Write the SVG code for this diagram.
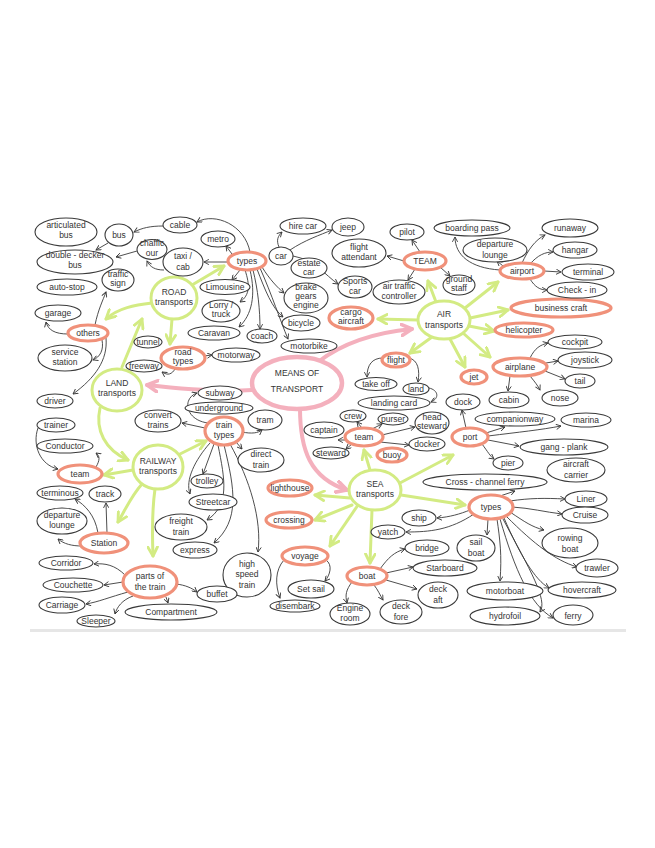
<svg xmlns="http://www.w3.org/2000/svg" width="655" height="848" viewBox="0 0 655 848">
<defs>
<style>
.b ellipse{fill:#fff;stroke:#3a3a3a;stroke-width:1.1}
.o ellipse{fill:#fff;stroke:#f0917a;stroke-width:3.2}
.y ellipse{fill:#fff;stroke:#d3eb83;stroke-width:3}
.p ellipse{fill:#fff;stroke:#f4b0bd;stroke-width:4.5}
text{font-family:"Liberation Sans",Arial,sans-serif;fill:#333;text-anchor:middle;font-size:8.5px}
.k path{fill:none;stroke:#3a3a3a;stroke-width:0.9;marker-end:url(#ak)}
.g path{fill:none;stroke:#d3eb83;stroke-width:3;stroke-linecap:round;marker-end:url(#ag)}
.r path{fill:none;stroke:#f4b0bd;stroke-width:4;stroke-linecap:round;marker-end:url(#ar)}
</style>
<marker id="ak" viewBox="0 0 8 8" refX="7" refY="4" markerUnits="userSpaceOnUse" markerWidth="6" markerHeight="6" orient="auto"><path d="M0.5 0.5 L7 4 L0.5 7.5" fill="none" stroke="#3a3a3a" stroke-width="1.2"/></marker>
<marker id="ag" viewBox="0 0 10 10" refX="8.5" refY="5" markerUnits="userSpaceOnUse" markerWidth="12" markerHeight="12" orient="auto"><path d="M1 1 L8.5 5 L1 9" fill="none" stroke="#d3eb83" stroke-width="2.4" stroke-linecap="round" stroke-linejoin="round"/></marker>
<marker id="ar" viewBox="0 0 10 10" refX="8.5" refY="5" markerUnits="userSpaceOnUse" markerWidth="14" markerHeight="14" orient="auto"><path d="M1 1 L8.5 5 L1 9" fill="none" stroke="#f4b0bd" stroke-width="2.6" stroke-linecap="round" stroke-linejoin="round"/></marker>
</defs>
<rect width="655" height="848" fill="#fff"/>
<rect x="30" y="629" width="596" height="3" fill="#e6e6e6"/>
<g id="connectors">
<g class="r">
<path d="M252 390 C220 392 190 390 147 385"/>
<path d="M318 362 C340 345 370 333 412 329"/>
<path d="M300 408 C300 450 310 478 347 490"/>
</g>
<g class="g">
<path d="M122 367 L142 319"/>
<path d="M152 303 C135 305 118 308 106 319"/>
<path d="M192 285 L224 266"/>
<path d="M172 319 L170 344"/>
<path d="M100 408 C95 430 105 450 128 460"/>
<path d="M133 470 L104 475"/>
<path d="M142 484 C132 495 125 510 118 522"/>
<path d="M155 489 C152 510 152 530 153 556"/>
<path d="M178 455 L206 441"/>
<path d="M418 320 L378 319"/>
<path d="M436 302 L428 281"/>
<path d="M465 308 L498 282"/>
<path d="M470 318 L508 310"/>
<path d="M469 326 L494 331"/>
<path d="M463 333 L490 357"/>
<path d="M450 339 L465 367"/>
<path d="M432 337 L410 353"/>
<path d="M370 470 L364 450"/>
<path d="M398 484 L453 455"/>
<path d="M401 495 L465 505"/>
<path d="M372 510 L370 563"/>
<path d="M358 505 L330 546"/>
<path d="M350 498 L315 495"/>
<path d="M352 505 L315 520"/>
</g>
<g class="k">
<path d="M250 252 C245 225 215 212 197 222"/>
<path d="M163 226 C150 226 142 228 134 232"/>
<path d="M232 254 L226 246"/>
<path d="M228 262 L204 262"/>
<path d="M164 270 C155 270 150 267 147 261"/>
<path d="M137 251 L116 257"/>
<path d="M108 243 L96 250"/>
<path d="M95 325 C98 310 103 300 106 292"/>
<path d="M68 334 C55 334 48 330 46 322"/>
<path d="M102 340 C104 350 100 357 93 360"/>
<path d="M106 338 C108 360 95 378 73 394"/>
<path d="M175 369 C172 374 168 376 162 372"/>
<path d="M204 356 L212 355"/>
<path d="M240 270 L232 280"/>
<path d="M245 270 C250 285 250 295 240 302"/>
<path d="M250 270 C256 295 252 315 239 327"/>
<path d="M253 270 C258 290 260 310 260 329"/>
<path d="M257 269 C265 290 272 308 283 317"/>
<path d="M260 268 C272 295 280 320 288 339"/>
<path d="M262 267 C270 280 278 288 284 293"/>
<path d="M279 247 C276 240 278 236 282 232"/>
<path d="M290 250 C305 240 320 235 332 230"/>
<path d="M293 256 C315 260 325 275 338 284"/>
<path d="M420 252 L412 240"/>
<path d="M404 261 L387 256"/>
<path d="M415 269 L408 280"/>
<path d="M440 267 L450 276"/>
<path d="M522 263 C528 250 535 240 545 235"/>
<path d="M530 264 C538 255 545 252 553 252"/>
<path d="M544 271 L561 272"/>
<path d="M530 279 C535 287 540 290 547 290"/>
<path d="M503 266 L497 261"/>
<path d="M500 270 C470 268 455 255 455 237"/>
<path d="M530 358 C535 348 540 345 548 343"/>
<path d="M546 363 L558 361"/>
<path d="M545 371 L565 379"/>
<path d="M530 376 C535 382 538 386 540 390"/>
<path d="M510 376 L508 391"/>
<path d="M383 358 C372 358 367 365 367 377"/>
<path d="M409 358 C418 360 420 370 418 382"/>
<path d="M429 388 C438 390 440 398 431 402"/>
<path d="M362 428 L357 422"/>
<path d="M372 429 L382 424"/>
<path d="M382 435 L415 427"/>
<path d="M380 442 L409 445"/>
<path d="M346 440 L338 440"/>
<path d="M352 444 L346 449"/>
<path d="M466 428 L462 410"/>
<path d="M486 433 L505 427"/>
<path d="M488 436 C520 432 540 430 561 426"/>
<path d="M488 440 L519 446"/>
<path d="M482 444 C488 452 490 456 494 459"/>
<path d="M500 496 L515 491"/>
<path d="M510 501 C530 498 545 498 565 499"/>
<path d="M512 507 C530 508 545 512 562 514"/>
<path d="M510 512 C525 522 532 527 544 530"/>
<path d="M506 516 C535 545 555 560 577 567"/>
<path d="M504 518 C520 555 535 580 549 588"/>
<path d="M500 519 C515 570 530 605 553 618"/>
<path d="M497 519 C500 540 502 555 500 581"/>
<path d="M503 519 C530 570 548 600 540 612"/>
<path d="M488 519 L487 535"/>
<path d="M470 510 C460 514 450 517 437 518"/>
<path d="M474 514 C450 530 430 532 406 532"/>
<path d="M380 569 C388 558 394 552 405 549"/>
<path d="M386 573 L413 567"/>
<path d="M386 580 L417 589"/>
<path d="M352 582 C346 590 345 595 347 603"/>
<path d="M374 585 C378 590 380 595 383 600"/>
<path d="M326 560 C333 565 330 575 325 581"/>
<path d="M284 560 C275 570 275 585 280 598"/>
<path d="M208 423 C185 420 182 398 197 393"/>
<path d="M205 428 L182 423"/>
<path d="M242 432 C252 434 258 433 262 430"/>
<path d="M236 442 L242 449"/>
<path d="M214 444 L203 474"/>
<path d="M210 443 C195 460 185 480 190 494"/>
<path d="M218 445 C225 480 230 505 207 520"/>
<path d="M224 445 C235 490 240 520 214 543"/>
<path d="M230 444 C250 480 262 520 258 552"/>
<path d="M96 467 C100 460 100 456 96 453"/>
<path d="M38 428 C32 445 40 465 58 469"/>
<path d="M82 546 C72 546 64 544 58 539"/>
<path d="M107 533 L106 503"/>
<path d="M98 533 C95 515 85 505 75 499"/>
<path d="M125 575 C115 565 105 563 94 564"/>
<path d="M123 582 L104 585"/>
<path d="M128 592 C110 597 98 602 86 604"/>
<path d="M133 596 C122 600 117 607 115 614"/>
<path d="M166 597 L168 603"/>
<path d="M176 584 C185 585 192 588 197 592"/>
</g>
</g>
<g id="n-means" class="p"><ellipse cx="297" cy="383" rx="45" ry="26"/><text x="297" y="376" font-size="7">MEANS OF</text><text x="297" y="392" font-size="11.5">TRANSPORT</text></g>
<g id="n-road" class="y"><ellipse cx="174" cy="298" rx="23" ry="21"/><text x="174" y="295" font-size="7">ROAD<tspan x="174" dy="9.5">transports</tspan></text></g>
<g id="n-air" class="y"><ellipse cx="444" cy="320" rx="26" ry="19"/><text x="444" y="317" font-size="8">AIR<tspan x="444" dy="10.5">transports</tspan></text></g>
<g id="n-land" class="y"><ellipse cx="117" cy="390" rx="25" ry="21"/><text x="117" y="386" font-size="7">LAND<tspan x="117" dy="10">transports</tspan></text></g>
<g id="n-rail" class="y"><ellipse cx="158" cy="467" rx="25" ry="22"/><text x="158" y="464" font-size="7">RAILWAY<tspan x="158" dy="9.5">transports</tspan></text></g>
<g id="n-sea" class="y"><ellipse cx="375" cy="490" rx="26" ry="20"/><text x="375" y="487" font-size="7">SEA<tspan x="375" dy="9.5">transports</tspan></text></g>
<g id="n-types-road" class="o"><ellipse cx="247" cy="261" rx="19" ry="9"/><text x="247" y="264" font-size="9">types</text></g>
<g id="n-others" class="o"><ellipse cx="88" cy="333" rx="20" ry="8"/><text x="88" y="336" font-size="8">others</text></g>
<g id="n-roadtypes" class="o"><ellipse cx="183" cy="358" rx="22" ry="11"/><text x="183" y="355" font-size="7">road<tspan x="183" dy="9">types</tspan></text></g>
<g id="n-cargo" class="o"><ellipse cx="351" cy="318" rx="22" ry="11"/><text x="351" y="315" font-size="7">cargo<tspan x="351" dy="9">aircraft</tspan></text></g>
<g id="n-team-air" class="o"><ellipse cx="425" cy="261" rx="21" ry="9"/><text x="425" y="264" font-size="8">TEAM</text></g>
<g id="n-airport" class="o"><ellipse cx="522" cy="271" rx="22" ry="8"/><text x="522" y="273.5" font-size="7.5">airport</text></g>
<g id="n-business" class="o"><ellipse cx="561" cy="308" rx="50" ry="9"/><text x="561" y="311" font-size="9.5">business craft</text></g>
<g id="n-helicopter" class="o"><ellipse cx="524" cy="330" rx="29" ry="7"/><text x="524" y="333" font-size="8">helicopter</text></g>
<g id="n-airplane" class="o"><ellipse cx="520" cy="367" rx="27" ry="9"/><text x="520" y="370">airplane</text></g>
<g id="n-jet" class="o"><ellipse cx="474" cy="377" rx="13" ry="7"/><text x="474" y="380">jet</text></g>
<g id="n-port" class="o"><ellipse cx="470" cy="437" rx="18" ry="9"/><text x="470" y="440" font-size="9">port</text></g>
<g id="n-flight" class="o"><ellipse cx="396" cy="360" rx="14" ry="7"/><text x="396" y="362.5" font-size="7.5">flight</text></g>
<g id="n-team-sea" class="o"><ellipse cx="364" cy="437" rx="19" ry="9"/><text x="364" y="440">team</text></g>
<g id="n-buoy" class="o"><ellipse cx="392" cy="455" rx="15" ry="7"/><text x="392" y="457.5" font-size="7.5">buoy</text></g>
<g id="n-traintypes" class="o"><ellipse cx="224" cy="431" rx="19" ry="14"/><text x="224" y="428" font-size="8">train<tspan x="224" dy="10">types</tspan></text></g>
<g id="n-lighthouse" class="o"><ellipse cx="290" cy="488" rx="22" ry="8"/><text x="290" y="490.5" font-size="7.5">lighthouse</text></g>
<g id="n-crossing" class="o"><ellipse cx="289" cy="520" rx="23" ry="8"/><text x="289" y="522.5" font-size="7.5">crossing</text></g>
<g id="n-team-rail" class="o"><ellipse cx="80" cy="474" rx="22" ry="9"/><text x="80" y="477">team</text></g>
<g id="n-station" class="o"><ellipse cx="104" cy="543" rx="24" ry="10"/><text x="104" y="546">Station</text></g>
<g id="n-parts" class="o"><ellipse cx="150" cy="582" rx="27" ry="16"/><text x="150" y="579" font-size="8">parts of<tspan x="150" dy="10.5">the train</tspan></text></g>
<g id="n-types-sea" class="o"><ellipse cx="491" cy="507" rx="22" ry="12"/><text x="491" y="510" font-size="9">types</text></g>
<g id="n-boat" class="o"><ellipse cx="367" cy="576" rx="20" ry="9"/><text x="367" y="579" font-size="9">boat</text></g>
<g id="n-voyage" class="o"><ellipse cx="305" cy="556" rx="23" ry="9"/><text x="305" y="559">voyage</text></g>
<g id="n-articulated" class="b"><ellipse cx="66" cy="232" rx="31" ry="14"/><text x="66" y="228" font-size="8">articulated<tspan x="66" dy="10">bus</tspan></text></g>
<g id="n-bus" class="b"><ellipse cx="119" cy="235" rx="14" ry="11"/><text x="119" y="238" font-size="9">bus</text></g>
<g id="n-cable" class="b"><ellipse cx="180" cy="225" rx="17" ry="8"/><text x="180" y="228" font-size="8">cable</text></g>
<g id="n-chaffic" class="b"><ellipse cx="152" cy="249.5" rx="15" ry="10"/><text x="152" y="246" font-size="6">chaffic</text><text x="152" y="255.5" font-size="6">our</text></g>
<g id="n-taxi" class="b"><ellipse cx="183" cy="262" rx="20" ry="14"/><text x="183" y="259" font-size="8.5">taxi /<tspan x="183" dy="10.5">cab</tspan></text></g>
<g id="n-metro" class="b"><ellipse cx="218" cy="239" rx="17" ry="8"/><text x="218" y="242">metro</text></g>
<g id="n-double" class="b"><ellipse cx="75" cy="262" rx="38" ry="12"/><text x="75" y="258" font-size="8">double - decker<tspan x="75" dy="10">bus</tspan></text></g>
<g id="n-traffic" class="b"><ellipse cx="118" cy="280" rx="16" ry="11"/><text x="118" y="276.5" font-size="7">traffic<tspan x="118" dy="9.5">sign</tspan></text></g>
<g id="n-autostop" class="b"><ellipse cx="67" cy="287" rx="30" ry="8"/><text x="67" y="290">auto-stop</text></g>
<g id="n-garage" class="b"><ellipse cx="58" cy="313" rx="23" ry="8"/><text x="58" y="316" font-size="9">garage</text></g>
<g id="n-tunnel" class="b"><ellipse cx="148" cy="342" rx="14" ry="6"/><text x="148" y="344.5" font-size="7">tunnel</text></g>
<g id="n-limousine" class="b"><ellipse cx="225" cy="287" rx="25" ry="7.5"/><text x="225" y="290" font-size="8">Limousine</text></g>
<g id="n-lorry" class="b"><ellipse cx="221" cy="311" rx="19" ry="11"/><text x="221" y="307.5" font-size="7.5">Lorry /<tspan x="221" dy="9.8">truck</tspan></text></g>
<g id="n-caravan" class="b"><ellipse cx="214" cy="333" rx="26" ry="7"/><text x="214" y="336" font-size="9">Caravan</text></g>
<g id="n-coach" class="b"><ellipse cx="262" cy="336" rx="15" ry="7"/><text x="262" y="339" font-size="8">coach</text></g>
<g id="n-hirecar" class="b"><ellipse cx="303" cy="226" rx="23" ry="8"/><text x="303" y="229">hire car</text></g>
<g id="n-jeep" class="b"><ellipse cx="348" cy="227" rx="16" ry="9"/><text x="348" y="230" font-size="9">jeep</text></g>
<g id="n-car" class="b"><ellipse cx="281" cy="256" rx="12" ry="9"/><text x="281" y="259" font-size="9">car</text></g>
<g id="n-estate" class="b"><ellipse cx="309" cy="268" rx="18" ry="10"/><text x="309" y="265.5" font-size="7">estate<tspan x="309" dy="9">car</tspan></text></g>
<g id="n-brake" class="b"><ellipse cx="306" cy="298" rx="22" ry="15"/><text x="306" y="289.5" font-size="6.5">brake</text><text x="306" y="298.5" font-size="6.5">gears</text><text x="306" y="307.5" font-size="6.5">engine</text></g>
<g id="n-bicycle" class="b"><ellipse cx="301" cy="323" rx="19" ry="8"/><text x="301" y="326">bicycle</text></g>
<g id="n-motorbike" class="b"><ellipse cx="309" cy="346" rx="28" ry="7"/><text x="309" y="349">motorbike</text></g>
<g id="n-motorway" class="b"><ellipse cx="236" cy="355" rx="24" ry="7"/><text x="236" y="358" font-size="8">motorway</text></g>
<g id="n-freeway" class="b"><ellipse cx="144" cy="366" rx="18" ry="6"/><text x="144" y="368.5" font-size="7">freeway</text></g>
<g id="n-attendant" class="b"><ellipse cx="359" cy="253" rx="27" ry="14"/><text x="359" y="250" font-size="8">flight<tspan x="359" dy="10">attendant</tspan></text></g>
<g id="n-sports" class="b"><ellipse cx="355" cy="287" rx="17" ry="11"/><text x="355" y="284" font-size="7.5">Sports<tspan x="355" dy="9.8">car</tspan></text></g>
<g id="n-pilot" class="b"><ellipse cx="407" cy="232" rx="17" ry="8"/><text x="407" y="235">pilot</text></g>
<g id="n-atc" class="b"><ellipse cx="399" cy="292" rx="26" ry="12"/><text x="399" y="289" font-size="7">air traffic<tspan x="399" dy="9.5">controller</tspan></text></g>
<g id="n-boarding" class="b"><ellipse cx="472" cy="228" rx="38" ry="8"/><text x="472" y="231">boarding pass</text></g>
<g id="n-departure-air" class="b"><ellipse cx="495" cy="250" rx="32" ry="12"/><text x="495" y="247">departure<tspan x="495" dy="10.5">lounge</tspan></text></g>
<g id="n-ground" class="b"><ellipse cx="459" cy="285" rx="16" ry="10"/><text x="459" y="282" font-size="7">ground<tspan x="459" dy="9">staff</tspan></text></g>
<g id="n-runaway" class="b"><ellipse cx="570" cy="228" rx="28" ry="9"/><text x="570" y="231" font-size="9">runaway</text></g>
<g id="n-hangar" class="b"><ellipse cx="575" cy="250" rx="22" ry="8"/><text x="575" y="253" font-size="9">hangar</text></g>
<g id="n-terminal" class="b"><ellipse cx="588" cy="272" rx="26" ry="8"/><text x="588" y="275">terminal</text></g>
<g id="n-checkin" class="b"><ellipse cx="577" cy="290" rx="30" ry="8"/><text x="577" y="293">Check - in</text></g>
<g id="n-cockpit" class="b"><ellipse cx="575" cy="342" rx="27" ry="7"/><text x="575" y="345">cockpit</text></g>
<g id="n-joystick" class="b"><ellipse cx="585" cy="360" rx="27" ry="8"/><text x="585" y="363">joystick</text></g>
<g id="n-tail" class="b"><ellipse cx="580" cy="381" rx="15" ry="7"/><text x="580" y="384">tail</text></g>
<g id="n-nose" class="b"><ellipse cx="560" cy="398" rx="18" ry="8"/><text x="560" y="401" font-size="9">nose</text></g>
<g id="n-cabin" class="b"><ellipse cx="509" cy="400" rx="20" ry="8"/><text x="509" y="403" font-size="9">cabin</text></g>
<g id="n-dock" class="b"><ellipse cx="463" cy="402" rx="17" ry="8"/><text x="463" y="405" font-size="9">dock</text></g>
<g id="n-companionway" class="b"><ellipse cx="515" cy="419" rx="40" ry="7"/><text x="515" y="422">companionway</text></g>
<g id="n-marina" class="b"><ellipse cx="586" cy="420" rx="25" ry="7"/><text x="586" y="423" font-size="9">marina</text></g>
<g id="n-gangplank" class="b"><ellipse cx="564" cy="447" rx="44" ry="8"/><text x="564" y="450" font-size="9.5">gang - plank</text></g>
<g id="n-pier" class="b"><ellipse cx="508" cy="463" rx="15" ry="7"/><text x="508" y="466" font-size="9">pier</text></g>
<g id="n-carrier" class="b"><ellipse cx="576" cy="470" rx="29" ry="12"/><text x="576" y="467">aircraft<tspan x="576" dy="10.5">carrier</tspan></text></g>
<g id="n-crossferry" class="b"><ellipse cx="485" cy="482" rx="62" ry="8"/><text x="485" y="485" font-size="9.5">Cross - channel ferry</text></g>
<g id="n-takeoff" class="b"><ellipse cx="376" cy="384" rx="21" ry="6.5"/><text x="376" y="387" font-size="8">take off</text></g>
<g id="n-land" class="b"><ellipse cx="416" cy="389" rx="13" ry="6"/><text x="416" y="392" font-size="8">land</text></g>
<g id="n-landingcard" class="b"><ellipse cx="394" cy="403" rx="36" ry="7"/><text x="394" y="406" font-size="8">landing card</text></g>
<g id="n-crew" class="b"><ellipse cx="353" cy="416" rx="13" ry="6"/><text x="353" y="418.5" font-size="7.5">crew</text></g>
<g id="n-purser" class="b"><ellipse cx="393" cy="419" rx="15" ry="6"/><text x="393" y="421.5" font-size="7">purser</text></g>
<g id="n-headsteward" class="b"><ellipse cx="432" cy="423" rx="17" ry="11"/><text x="432" y="420" font-size="6.5">head<tspan x="432" dy="9">steward</tspan></text></g>
<g id="n-captain" class="b"><ellipse cx="324" cy="430" rx="20" ry="8"/><text x="324" y="432.5" font-size="7.5">captain</text></g>
<g id="n-docker" class="b"><ellipse cx="427" cy="444" rx="18" ry="7"/><text x="427" y="447" font-size="8">docker</text></g>
<g id="n-steward" class="b"><ellipse cx="331" cy="453" rx="18" ry="6"/><text x="331" y="455.5" font-size="7">steward</text></g>
<g id="n-subway" class="b"><ellipse cx="220" cy="393" rx="22" ry="7"/><text x="220" y="396">subway</text></g>
<g id="n-underground" class="b"><ellipse cx="219" cy="408" rx="34" ry="6"/><text x="219" y="411" font-size="8">underground</text></g>
<g id="n-convert" class="b"><ellipse cx="158" cy="421" rx="23" ry="11"/><text x="158" y="418" font-size="8">convert<tspan x="158" dy="10">trains</tspan></text></g>
<g id="n-tram" class="b"><ellipse cx="265" cy="420" rx="17" ry="10"/><text x="265" y="423" font-size="9">tram</text></g>
<g id="n-direct" class="b"><ellipse cx="261" cy="460" rx="23" ry="12"/><text x="261" y="457">direct<tspan x="261" dy="10.5">train</tspan></text></g>
<g id="n-trolley" class="b"><ellipse cx="207" cy="481" rx="16" ry="7"/><text x="207" y="483.5" font-size="7.5">trolley</text></g>
<g id="n-streetcar" class="b"><ellipse cx="213" cy="502" rx="24" ry="8"/><text x="213" y="505" font-size="8">Streetcar</text></g>
<g id="n-service" class="b"><ellipse cx="65" cy="358" rx="27" ry="13"/><text x="65" y="355" font-size="8">service<tspan x="65" dy="10">station</tspan></text></g>
<g id="n-driver" class="b"><ellipse cx="55" cy="401" rx="18" ry="7"/><text x="55" y="404">driver</text></g>
<g id="n-trainer" class="b"><ellipse cx="56" cy="425" rx="19" ry="7"/><text x="56" y="427.5" font-size="7.5">trainer</text></g>
<g id="n-conductor" class="b"><ellipse cx="65" cy="446" rx="28" ry="7"/><text x="65" y="449">Conductor</text></g>
<g id="n-terminous" class="b"><ellipse cx="60" cy="493" rx="23" ry="7"/><text x="60" y="495.5" font-size="7">terminous</text></g>
<g id="n-track" class="b"><ellipse cx="105" cy="494" rx="16" ry="8"/><text x="105" y="497">track</text></g>
<g id="n-departure-rail" class="b"><ellipse cx="62" cy="521" rx="25" ry="13"/><text x="62" y="518" font-size="7">departure<tspan x="62" dy="9.5">lounge</tspan></text></g>
<g id="n-freight" class="b"><ellipse cx="181" cy="527" rx="26" ry="13"/><text x="181" y="524">freight<tspan x="181" dy="10.5">train</tspan></text></g>
<g id="n-express" class="b"><ellipse cx="195" cy="550" rx="22" ry="8"/><text x="195" y="553" font-size="9">express</text></g>
<g id="n-highspeed" class="b"><ellipse cx="247" cy="575" rx="24" ry="22"/><text x="247" y="566.5">high<tspan x="247" dy="10.5">speed</tspan><tspan x="247" dy="10.5">train</tspan></text></g>
<g id="n-setsail" class="b"><ellipse cx="311" cy="589" rx="23" ry="9"/><text x="311" y="592">Set sail</text></g>
<g id="n-disembark" class="b"><ellipse cx="295" cy="606" rx="25" ry="6"/><text x="295" y="608.5" font-size="7.5">disembark</text></g>
<g id="n-corridor" class="b"><ellipse cx="66" cy="563" rx="27" ry="7"/><text x="66" y="566">Corridor</text></g>
<g id="n-couchette" class="b"><ellipse cx="73" cy="585" rx="30" ry="7"/><text x="73" y="588">Couchette</text></g>
<g id="n-buffet" class="b"><ellipse cx="217" cy="594" rx="20" ry="8"/><text x="217" y="597">buffet</text></g>
<g id="n-carriage" class="b"><ellipse cx="62" cy="605" rx="23" ry="8"/><text x="62" y="608" font-size="8">Carriage</text></g>
<g id="n-sleeper" class="b"><ellipse cx="96" cy="621" rx="19" ry="6"/><text x="96" y="623.5" font-size="7.5">Sleeper</text></g>
<g id="n-compartment" class="b"><ellipse cx="171" cy="612" rx="46" ry="8"/><text x="171" y="615" font-size="9.5">Compartment</text></g>
<g id="n-ship" class="b"><ellipse cx="419" cy="518" rx="17" ry="8"/><text x="419" y="521">ship</text></g>
<g id="n-yatch" class="b"><ellipse cx="388" cy="532" rx="17" ry="7"/><text x="388" y="535" font-size="8">yatch</text></g>
<g id="n-bridge" class="b"><ellipse cx="427" cy="548" rx="22" ry="8"/><text x="427" y="551" font-size="9">bridge</text></g>
<g id="n-sailboat" class="b"><ellipse cx="476" cy="548" rx="19" ry="13"/><text x="476" y="545">sail<tspan x="476" dy="10.5">boat</tspan></text></g>
<g id="n-starboard" class="b"><ellipse cx="445" cy="568" rx="32" ry="8"/><text x="445" y="571">Starboard</text></g>
<g id="n-deckaft" class="b"><ellipse cx="438" cy="595" rx="20" ry="13"/><text x="438" y="592">deck<tspan x="438" dy="10.5">aft</tspan></text></g>
<g id="n-motorboat" class="b"><ellipse cx="505" cy="591" rx="38" ry="9"/><text x="505" y="594" font-size="9">motorboat</text></g>
<g id="n-engineroom" class="b"><ellipse cx="350" cy="614" rx="20" ry="11"/><text x="350" y="611" font-size="7.5">Engine<tspan x="350" dy="9.8">room</tspan></text></g>
<g id="n-deckfore" class="b"><ellipse cx="401" cy="612" rx="21" ry="12"/><text x="401" y="609">deck<tspan x="401" dy="10.5">fore</tspan></text></g>
<g id="n-hydrofoil" class="b"><ellipse cx="505" cy="616" rx="35" ry="9"/><text x="505" y="619" font-size="9">hydrofoil</text></g>
<g id="n-liner" class="b"><ellipse cx="586" cy="499" rx="21" ry="8"/><text x="586" y="502" font-size="9">Liner</text></g>
<g id="n-cruise" class="b"><ellipse cx="585" cy="515" rx="23" ry="8"/><text x="585" y="518" font-size="9">Cruise</text></g>
<g id="n-rowing" class="b"><ellipse cx="570" cy="543" rx="28" ry="15"/><text x="570" y="540.5" font-size="9">rowing<tspan x="570" dy="11">boat</tspan></text></g>
<g id="n-trawler" class="b"><ellipse cx="597" cy="568" rx="21" ry="9"/><text x="597" y="571" font-size="8">trawler</text></g>
<g id="n-hovercraft" class="b"><ellipse cx="582" cy="590" rx="34" ry="8"/><text x="582" y="593" font-size="9">hovercraft</text></g>
<g id="n-ferry" class="b"><ellipse cx="573" cy="615" rx="20" ry="10"/><text x="573" y="618.5" font-size="10">ferry</text></g>
</svg>
